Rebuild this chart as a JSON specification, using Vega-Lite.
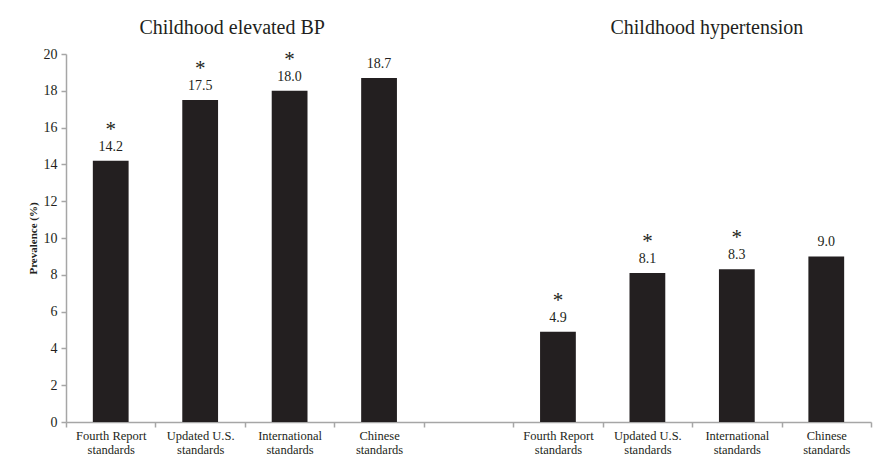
{
  "$schema": "https://vega.github.io/schema/vega-lite/v6.json",
  "width": 805,
  "height": 368,
  "autosize": "none",
  "padding": {"left": 66, "top": 54, "right": 2, "bottom": 46},
  "background": "white",
  "config": {
    "view": {"stroke": null},
    "font": "Liberation Serif",
    "text": {"font": "Liberation Serif", "color": "#231f20"},
    "axisY": {
      "title": "Prevalence (%)",
      "titleFont": "Liberation Serif",
      "titleFontSize": 11,
      "titleFontWeight": "bold",
      "titleColor": "#231f20",
      "titlePadding": 5,
      "grid": false,
      "labelFont": "Liberation Serif",
      "labelFontSize": 14,
      "labelColor": "#231f20",
      "labelPadding": 4,
      "labelOverlap": false,
      "tickSize": 5,
      "tickColor": "#a6a6a6",
      "domainColor": "#a6a6a6",
      "domainWidth": 1.5,
      "tickWidth": 1.5
    }
  },
  "datasets": {
    "bars": [
      {"slot": "A|Fourth Report|standards", "value": 14.2, "sig": true},
      {"slot": "A|Updated U.S.|standards", "value": 17.5, "sig": true},
      {"slot": "A|International|standards", "value": 18.0, "sig": true},
      {"slot": "A|Chinese|standards", "value": 18.7, "sig": false},
      {"slot": "B|Fourth Report|standards", "value": 4.9, "sig": true},
      {"slot": "B|Updated U.S.|standards", "value": 8.1, "sig": true},
      {"slot": "B|International|standards", "value": 8.3, "sig": true},
      {"slot": "B|Chinese|standards", "value": 9.0, "sig": false}
    ],
    "titles1": [{"slot": "A|Updated U.S.|standards", "label": "Childhood elevated BP"}],
    "titles2": [{"slot": "B|International|standards", "label": "Childhood hypertension"}]
  },
  "encoding": {
    "x": {
      "field": "slot",
      "type": "nominal",
      "sort": null,
      "scale": {
        "domain": [
          "A|Fourth Report|standards", "A|Updated U.S.|standards", "A|International|standards", "A|Chinese|standards",
          "gap",
          "B|Fourth Report|standards", "B|Updated U.S.|standards", "B|International|standards", "B|Chinese|standards"
        ],
        "paddingInner": 0,
        "paddingOuter": 0
      },
      "axis": {
        "title": null,
        "labelExpr": "datum.value == 'gap' ? '' : slice(split(datum.value, '|'), 1)",
        "labelAngle": 0,
        "labelFont": "Liberation Serif",
        "labelFontSize": 12.5,
        "labelColor": "#231f20",
        "labelLineHeight": 14,
        "labelPadding": 2,
        "labelBaseline": "top",
        "labelOverlap": false,
        "tickBand": "extent",
        "tickSize": 5,
        "tickColor": "#a6a6a6",
        "domainColor": "#a6a6a6",
        "domainWidth": 1.5,
        "tickWidth": 1.5
      }
    }
  },
  "layer": [
    {
      "data": {"name": "bars"},
      "mark": {"type": "bar", "color": "#231f20", "width": {"band": 0.4}},
      "encoding": {
        "y": {
          "field": "value",
          "type": "quantitative",
          "scale": {"domain": [0, 20], "nice": false},
          "axis": {"title": "Prevalence (%)", "values": [0, 2, 4, 6, 8, 10, 12, 14, 16, 18, 20]}
        }
      }
    },
    {
      "data": {"name": "bars"},
      "mark": {"type": "text", "font": "Liberation Serif", "fontSize": 14, "dy": -10, "baseline": "alphabetic"},
      "encoding": {
        "y": {
          "field": "value",
          "type": "quantitative",
          "axis": {"title": "Prevalence (%)", "values": [0, 2, 4, 6, 8, 10, 12, 14, 16, 18, 20]}
        },
        "text": {"field": "value", "type": "quantitative", "format": ".1f"}
      }
    },
    {
      "data": {"name": "bars"},
      "transform": [{"filter": "datum.sig"}],
      "mark": {"type": "text", "font": "Liberation Serif", "fontSize": 21, "dy": -25, "baseline": "alphabetic", "text": "*"},
      "encoding": {
        "y": {
          "field": "value",
          "type": "quantitative",
          "axis": {"title": "Prevalence (%)", "values": [0, 2, 4, 6, 8, 10, 12, 14, 16, 18, 20]}
        }
      }
    },
    {
      "data": {"name": "titles1"},
      "mark": {"type": "text", "font": "Liberation Serif", "fontSize": 20, "dx": 32, "baseline": "middle", "clip": false},
      "encoding": {
        "y": {
          "datum": 21.4,
          "type": "quantitative",
          "axis": {"title": "Prevalence (%)", "values": [0, 2, 4, 6, 8, 10, 12, 14, 16, 18, 20]}
        },
        "text": {"field": "label", "type": "nominal"}
      }
    },
    {
      "data": {"name": "titles2"},
      "mark": {"type": "text", "font": "Liberation Serif", "fontSize": 20, "dx": -30, "baseline": "middle", "clip": false},
      "encoding": {
        "y": {
          "datum": 21.4,
          "type": "quantitative",
          "axis": {"title": "Prevalence (%)", "values": [0, 2, 4, 6, 8, 10, 12, 14, 16, 18, 20]}
        },
        "text": {"field": "label", "type": "nominal"}
      }
    }
  ]
}
